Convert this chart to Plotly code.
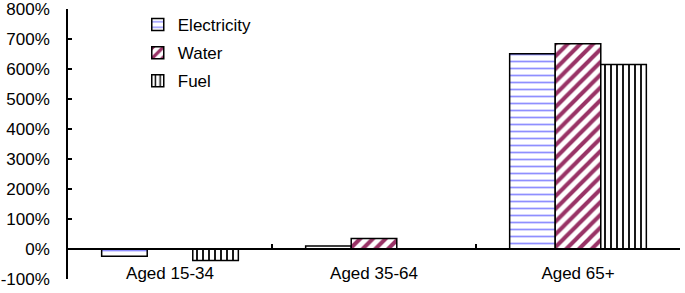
import plotly.graph_objects as go

categories = ["Aged 15-34", "Aged 35-64", "Aged 65+"]
electricity = [-24, 10, 651]
water = [0, 35, 684]
fuel = [-38, 0, 615]
y_ticks = list(range(-100, 801, 100))
y_tick_labels = [f"{v}%" for v in y_ticks]

FONT = "Liberation Sans, Arial, sans-serif"

fig = go.Figure()
fig.add_trace(go.Bar(
    name="Electricity", x=categories, y=electricity, legendgroup="e",
    marker=dict(color="white", line=dict(color="black", width=1.5),
                pattern=dict(shape="-", fgcolor="#8f8fff", bgcolor="white",
                             size=7, solidity=0.25, fillmode="replace")),
))
fig.add_trace(go.Bar(
    name="Water", x=categories, y=water, legendgroup="w",
    marker=dict(color="white", line=dict(color="black", width=1.5),
                pattern=dict(shape="/", fgcolor="#993366", bgcolor="white",
                             size=9, solidity=0.45, fillmode="replace")),
))
fig.add_trace(go.Bar(
    name="Fuel", x=categories, y=fuel, legendgroup="f",
    marker=dict(color="white", line=dict(color="black", width=1.5),
                pattern=dict(shape="|", fgcolor="black", bgcolor="white",
                             size=6, solidity=0.3, fillmode="replace")),
))

fig.update_layout(
    width=685, height=293,
    margin=dict(l=68, r=5, t=9, b=14),
    paper_bgcolor="white", plot_bgcolor="white",
    font=dict(family=FONT, size=17, color="black"),
    barmode="group", bargap=0.33, bargroupgap=0,
    showlegend=True,
    legend=dict(x=0.114, y=1.0 + 2 / 270, xanchor="left", yanchor="top",
                bgcolor="rgba(0,0,0,0)", font=dict(size=17),
                traceorder="grouped", tracegroupgap=3),
    xaxis=dict(type="category", range=[-0.5, 2.5], showline=True,
               linecolor="black", linewidth=1.5, ticks="inside",
               tickson="boundaries", ticklen=4, tickcolor="black",
               tickwidth=1.5, showgrid=False, anchor="free",
               position=100 / 900, ticklabelstandoff=9, automargin=False,
               ticklabeloverflow="allow"),
    yaxis=dict(range=[-100, 800], tickvals=y_ticks, ticktext=y_tick_labels,
               showline=True, linecolor="black", linewidth=1.5,
               ticks="inside", ticklen=4, tickcolor="black", tickwidth=1.5,
               showgrid=False, zeroline=False, ticklabelstandoff=13,
               automargin=False, ticklabeloverflow="allow"),
)

fig.write_html("out.html", config={"displayModeBar": False},
               post_script="document.body.style.margin='0';")
